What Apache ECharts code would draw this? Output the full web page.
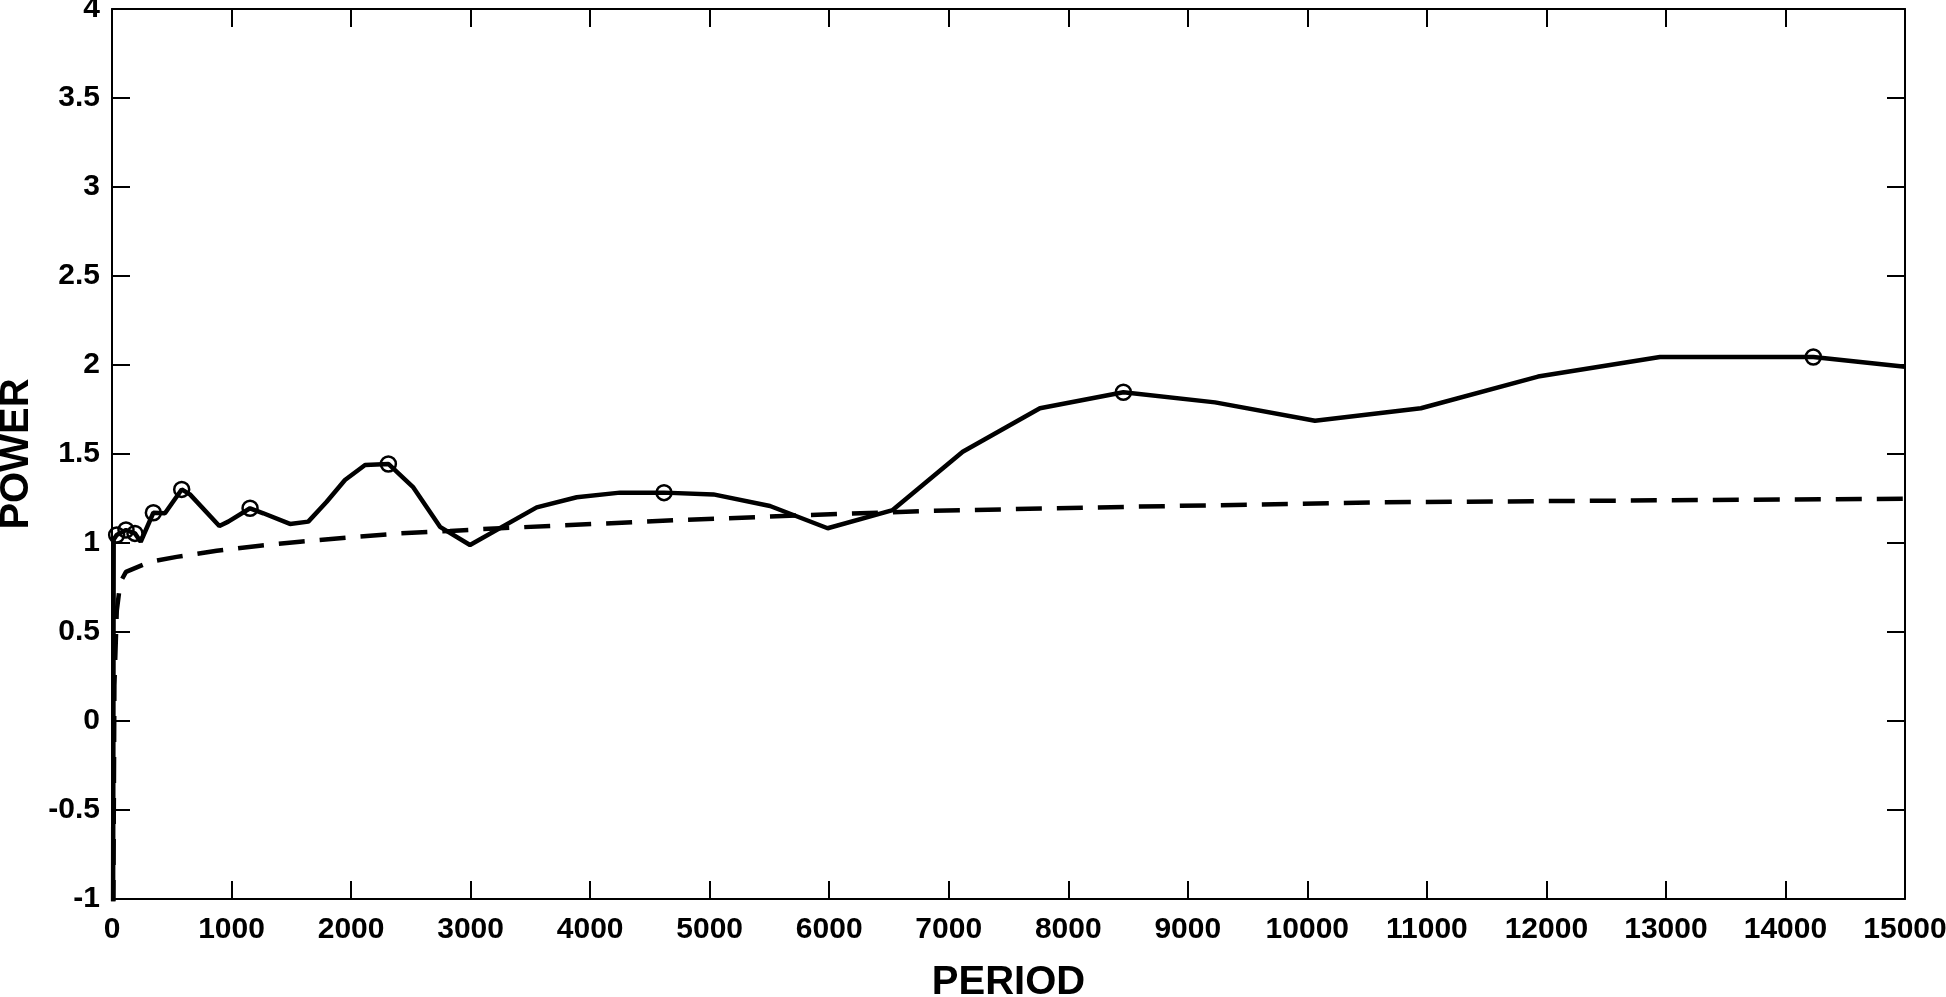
<!DOCTYPE html>
<html>
<head>
<meta charset="utf-8">
<script src="https://cdn.jsdelivr.net/npm/echarts@6/dist/echarts.min.js"></script>
<style>
html,body{margin:0;padding:0;background:#fff;}
#chart{width:1946px;height:997px;}
</style>
</head>
<body>
<div id="chart"></div>
<script>
// Solid line (power spectrum)
const solidPeriods = [8, 14, 39, 117, 192, 240, 346, 443, 583, 652, 898, 973, 1155, 1266, 1489, 1642, 1796, 1949, 2117, 2312, 2521, 2744, 2995, 3553, 3888, 4250, 4618, 5031, 5505, 5987, 6531, 7117, 7763, 8461, 9228, 10064, 10950, 11930, 12950, 14233, 15000];
const solidPowers  = [-1.5, 1.02, 1.045, 1.073, 1.054, 1.007, 1.17, 1.167, 1.301, 1.273, 1.096, 1.12, 1.195, 1.167, 1.107, 1.12, 1.232, 1.354, 1.438, 1.444, 1.312, 1.091, 0.989, 1.200, 1.257, 1.283, 1.283, 1.273, 1.208, 1.083, 1.185, 1.513, 1.757, 1.847, 1.790, 1.687, 1.757, 1.935, 2.045, 2.045, 1.990];
const solidMarked  = [0, 0, 1, 1, 1, 0, 1, 0, 1, 0, 0, 0, 1, 0, 0, 0, 0, 0, 0, 1, 0, 0, 0, 0, 0, 0, 1, 0, 0, 0, 0, 0, 0, 1, 0, 0, 0, 0, 0, 1, 0];

// Dashed line (significance level)
const dashPeriods = [8, 20, 40, 70, 117, 318, 541, 876, 1238, 1573, 1991, 2409, 2828, 3246, 4752, 5839, 6815, 8544, 10636, 13000, 15000];
const dashPowers  = [-1.5, 0.2, 0.62, 0.78, 0.838, 0.894, 0.922, 0.956, 0.985, 1.007, 1.032, 1.054, 1.068, 1.083, 1.129, 1.157, 1.180, 1.204, 1.229, 1.240, 1.248];

const xMin = 0, xMax = 15000, xStep = 1000;
const yMin = -1, yMax = 4, yStep = 0.5;

const FONT = 'Liberation Sans, Arial, Helvetica, sans-serif';

const solidData = solidPeriods.map((p, i) => ({
  value: [p, solidPowers[i]],
  symbol: solidMarked[i] ? 'circle' : 'none'
}));
const dashData = dashPeriods.map((p, i) => [p, dashPowers[i]]);

const chart = echarts.init(document.getElementById('chart'), null, {renderer: 'canvas'});

const tickStyle = {show: true, inside: true, length: 18, lineStyle: {color: '#000', width: 2}};
const lineStyleAxis = {show: true, onZero: false, lineStyle: {color: '#000', width: 2}};
const labelStyle = {color: '#000', fontFamily: FONT, fontWeight: 'bold', fontSize: 30};

chart.setOption({
  animation: false,
  backgroundColor: '#fff',
  grid: {left: 112, right: 41, top: 9, bottom: 98, containLabel: false, outerBoundsMode: 'none'},
  xAxis: [
    {
      type: 'value', min: xMin, max: xMax, interval: xStep, position: 'bottom',
      name: 'PERIOD', nameLocation: 'middle', nameGap: 64,
      nameTextStyle: {color: '#000', fontFamily: FONT, fontWeight: 'bold', fontSize: 40},
      axisLine: lineStyleAxis, axisTick: tickStyle,
      axisLabel: Object.assign({margin: 16, formatter: v => String(v)}, labelStyle),
      splitLine: {show: false}
    },
    {
      type: 'value', min: xMin, max: xMax, interval: xStep, position: 'top',
      axisLine: lineStyleAxis, axisTick: tickStyle,
      axisLabel: {show: false}, splitLine: {show: false}
    }
  ],
  yAxis: [
    {
      type: 'value', min: yMin, max: yMax, interval: yStep, position: 'left',
      name: 'POWER', nameLocation: 'middle', nameGap: 59,
      nameTextStyle: {color: '#000', fontFamily: FONT, fontWeight: 'bold', fontSize: 40},
      axisLine: lineStyleAxis, axisTick: tickStyle,
      axisLabel: Object.assign({margin: 12, formatter: v => String(v)}, labelStyle),
      splitLine: {show: false}
    },
    {
      type: 'value', min: yMin, max: yMax, interval: yStep, position: 'right',
      axisLine: lineStyleAxis, axisTick: tickStyle,
      axisLabel: {show: false}, splitLine: {show: false}
    }
  ],
  series: [
    {
      type: 'line', name: 'significance', data: dashData,
      xAxisIndex: 0, yAxisIndex: 0,
      symbol: 'none', smooth: false, clip: true,
      lineStyle: {color: '#000', width: 4.5, type: [26, 15]},
      z: 2
    },
    {
      type: 'line', name: 'power', data: solidData,
      xAxisIndex: 0, yAxisIndex: 0,
      showSymbol: true, showAllSymbol: true, symbolSize: 15, smooth: false, clip: true,
      lineStyle: {color: '#000', width: 4.5},
      itemStyle: {color: 'rgba(0,0,0,0)', borderColor: '#000', borderWidth: 2.5},
      z: 3
    }
  ]
});
</script>
</body>
</html>
